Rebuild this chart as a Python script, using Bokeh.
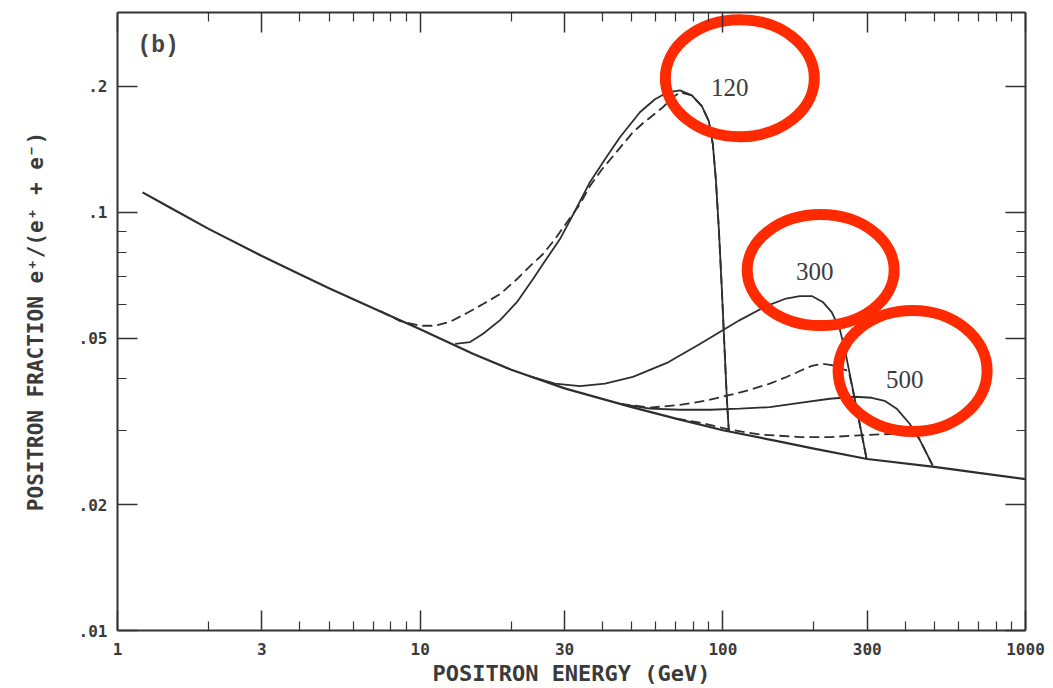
from bokeh.plotting import figure
from bokeh.models import Range1d, LogAxis, FixedTicker, CustomJSTickFormatter
from bokeh.core.properties import value
from bokeh.embed import file_html
from bokeh.resources import INLINE

# ---- data (energy in GeV, positron fraction) ----
bg_energy = [1.21, 1.5, 2, 3, 4, 5, 7, 10, 15, 20, 30, 50, 70, 100, 150, 200, 300, 500, 700, 1000]
bg_fraction = [0.1115, 0.1023, 0.0912, 0.0785, 0.0710, 0.0658, 0.0589, 0.0525, 0.0458, 0.0420,
               0.0379, 0.0342, 0.0321, 0.0301, 0.0284, 0.0272, 0.0257, 0.0246, 0.0238, 0.0230]

m120_solid_energy = [13.05, 14.62, 16.14, 18.37, 20.90, 23.60, 25.85, 28.97, 32.48, 36.39, 40.79,
                     45.72, 53.21, 59.65, 65.84, 72.14, 79.01, 85.24, 89.90, 92.68, 94.81, 97.01,
                     99.24, 101.5, 103.1, 104.7]
m120_solid_fraction = [0.0484, 0.0489, 0.0512, 0.0552, 0.0610, 0.0692, 0.0764, 0.0862, 0.1006, 0.1179,
                       0.1338, 0.1510, 0.1733, 0.1861, 0.1934, 0.1955, 0.1902, 0.1791, 0.1649, 0.1453,
                       0.1199, 0.0911, 0.0655, 0.0458, 0.0358, 0.0299]

m120_dash_energy = [7.379, 8.590, 10.00, 11.21, 12.56, 14.29, 16.14, 18.37, 20.90, 23.07, 25.46, 27.90,
                    30.56, 33.74, 36.39, 39.87, 43.35, 46.77, 50.47, 54.45, 58.75, 63.39, 67.87, 72.14,
                    79.01, 85.24, 89.90, 92.68, 94.81, 97.01, 99.24, 101.5, 103.1, 104.7]
m120_dash_fraction = [0.0580, 0.0549, 0.0535, 0.0535, 0.0547, 0.0574, 0.0603, 0.0637, 0.0692, 0.0743,
                      0.0794, 0.0862, 0.0946, 0.1045, 0.1154, 0.1266, 0.1360, 0.1453, 0.1552, 0.1631,
                      0.1704, 0.1781, 0.1871, 0.1934, 0.1902, 0.1791, 0.1649, 0.1453, 0.1199, 0.0911,
                      0.0655, 0.0458, 0.0358, 0.0299]

m300_solid_energy = [23.07, 27.90, 33.74, 40.79, 50.47, 65.34, 83.96, 97.74, 113.8, 139.7, 160.2, 179.6,
                     196.7, 213.8, 228.9, 243.3, 252.7, 262.5, 272.7, 283.2, 292.0, 298.6]
m300_solid_fraction = [0.0405, 0.0389, 0.0384, 0.0389, 0.0404, 0.0436, 0.0484, 0.0517, 0.0552, 0.0597,
                       0.0620, 0.0630, 0.0630, 0.0610, 0.0577, 0.0526, 0.0471, 0.0411, 0.0358, 0.0312,
                       0.0279, 0.0257]

m300_dash_energy = [45.72, 57.42, 72.14, 87.22, 103.1, 122.8, 142.9, 160.2, 179.6, 196.7, 212.2, 228.9,
                    243.3, 260.5, 272.7, 283.2, 292.0, 298.6]
m300_dash_fraction = [0.0348, 0.0341, 0.0346, 0.0354, 0.0364, 0.0376, 0.0389, 0.0402, 0.0417, 0.0429,
                      0.0434, 0.0431, 0.0424, 0.0417, 0.0358, 0.0312, 0.0279, 0.0257]

m500_solid_energy = [45.72, 57.42, 72.14, 90.61, 113.8, 142.9, 179.6, 225.5, 272.7, 310.2, 342.3, 375.3,
                     414.2, 446.9, 471.3, 493.3]
m500_solid_fraction = [0.0348, 0.0339, 0.0337, 0.0337, 0.0339, 0.0342, 0.0350, 0.0358, 0.0362, 0.0360,
                       0.0354, 0.0339, 0.0312, 0.0286, 0.0265, 0.0248]

m500_dash_energy = [70.0, 83.96, 105.5, 132.5, 179.6, 225.5, 268.5, 317.4, 369.6, 433.5, 446.9, 471.3, 493.3]
m500_dash_fraction = [0.0321, 0.0314, 0.0302, 0.0294, 0.0290, 0.0290, 0.0292, 0.0294, 0.0295, 0.0297,
                      0.0286, 0.0265, 0.0248]

mass_labels = ["120", "300", "500"]
label_energy = [105.5, 201.3, 398.8]
label_fraction = [0.199, 0.0723, 0.0399]
ring_energy = [113.8, 210.5, 423.7]
ring_fraction = [0.209, 0.0727, 0.0417]

x_major = [1, 3, 10, 30, 100, 300, 1000]
x_minor = [2, 4, 5, 6, 7, 8, 9, 20, 40, 50, 60, 70, 80, 90, 200, 400, 500, 600, 700, 800, 900]
y_major = [0.01, 0.02, 0.05, 0.1, 0.2]
y_minor = [0.03, 0.04, 0.06, 0.07, 0.08, 0.09]

# ---- figure ----
INK = "#333333"
p = figure(width=1053, height=688, x_axis_type="log", y_axis_type="log",
           x_range=Range1d(1, 1000), y_range=Range1d(0.01, 0.30),
           output_backend="svg", toolbar_location=None,
           min_border_left=117, min_border_right=28, min_border_top=12, min_border_bottom=56)
p.xgrid.visible = False
p.ygrid.visible = False
p.outline_line_color = None
p.background_fill_color = "white"
p.border_fill_color = "white"

label_fmt = CustomJSTickFormatter(code="var s = String(tick); return s.startsWith('0.') ? s.slice(1) : s;")
blank_fmt = CustomJSTickFormatter(code="return '';")


def style_axis(ax, ticks, minor, shown):
    ax.ticker = FixedTicker(ticks=ticks, minor_ticks=minor)
    ax.formatter = label_fmt if shown else blank_fmt
    ax.major_tick_in = 20
    ax.major_tick_out = 0
    ax.minor_tick_in = 9
    ax.minor_tick_out = 0
    ax.axis_line_color = INK
    ax.axis_line_width = 2
    ax.major_tick_line_color = INK
    ax.major_tick_line_width = 1.5
    ax.minor_tick_line_color = INK
    ax.minor_tick_line_width = 1.2
    ax.major_label_text_font = "DejaVu Sans Mono"
    ax.major_label_text_font_size = "16px" if shown else "0px"
    ax.major_label_text_font_style = "bold"
    ax.major_label_text_color = "#3a3a3a"
    ax.major_label_standoff = 10 if shown else 0
    ax.axis_label_text_font = "DejaVu Sans Mono"
    ax.axis_label_text_font_style = "bold"
    ax.axis_label_text_font_size = "21px"
    ax.axis_label_text_color = "#3a3a3a"


style_axis(p.xaxis[0], x_major, x_minor, True)
style_axis(p.yaxis[0], y_major, y_minor, True)
p.xaxis[0].axis_label = "POSITRON ENERGY (GeV)"
p.xaxis[0].major_label_standoff = 12
p.xaxis[0].axis_label_standoff = 3
p.xaxis[0].axis_label_text_font_size = "22px"
p.yaxis[0].axis_label = "POSITRON FRACTION e\u207a/(e\u207a + e\u207b)"
p.yaxis[0].axis_label_standoff = 28

top_ax = LogAxis()
style_axis(top_ax, x_major, x_minor, False)
p.add_layout(top_ax, "above")
right_ax = LogAxis()
style_axis(right_ax, y_major, y_minor, False)
p.add_layout(right_ax, "right")

LINE = "#2e2e2e"
p.line(bg_energy, bg_fraction, line_color=LINE, line_width=2.2)
p.line(m120_solid_energy, m120_solid_fraction, line_color=LINE, line_width=1.8)
p.line(m120_dash_energy, m120_dash_fraction, line_color=LINE, line_width=1.8, line_dash="10 5")
p.line(m300_solid_energy, m300_solid_fraction, line_color=LINE, line_width=1.8)
p.line(m300_dash_energy, m300_dash_fraction, line_color=LINE, line_width=1.8, line_dash="10 5")
p.line(m500_solid_energy, m500_solid_fraction, line_color=LINE, line_width=1.8)
p.line(m500_dash_energy, m500_dash_fraction, line_color=LINE, line_width=1.8, line_dash="10 5")

p.text(x=label_energy, y=label_fraction, text=mass_labels,
       text_font=value("Liberation Serif"), text_font_size="25px",
       text_align="center", text_baseline="middle", text_color="#3c3c3c")

p.text(x=[1.164], y=[0.249], text=["(b)"], text_font=value("Liberation Mono"),
       text_font_size="23px", text_font_style="bold", text_align="left", text_baseline="middle",
       text_color="#444444")

p.ellipse(x=ring_energy, y=ring_fraction, width=[149, 147, 149], height=[117, 111, 121],
          width_units="screen", height_units="screen", fill_color=None,
          line_color="#ff2a00", line_width=11)

open("out.html", "w").write(file_html(p, INLINE))
